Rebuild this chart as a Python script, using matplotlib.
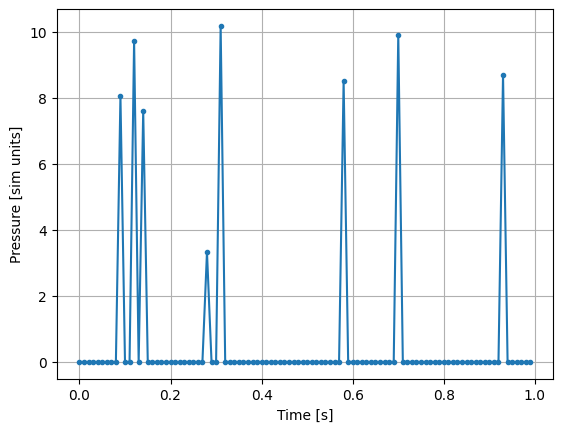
import matplotlib
matplotlib.use("Agg")
import matplotlib.pyplot as plt
import numpy as np

# time axis: 100 samples, 0.00 .. 0.99 s
time = np.round(np.arange(100) * 0.01, 2)

# pressure spikes (sample index -> value)
spike_idx = [9, 12, 14, 28, 31, 58, 70, 93]
spike_val = [8.05, 9.72, 7.60, 3.33, 10.18, 8.51, 9.91, 8.70]

pressure = np.zeros(len(time))
pressure[spike_idx] = spike_val

fig, ax = plt.subplots(figsize=(6.4, 4.8))
ax.plot(time, pressure, marker='.')
ax.set_xlabel('Time [s]')
ax.set_ylabel('Pressure [sim units]')
ax.grid(True)

fig.savefig('out.png', dpi=100, bbox_inches='tight')
